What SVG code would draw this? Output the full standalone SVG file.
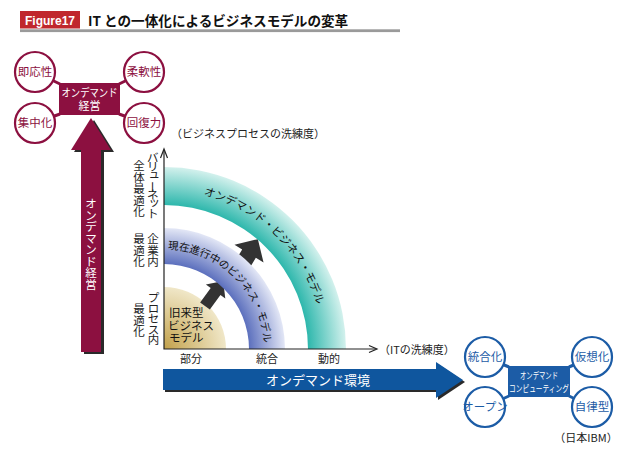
<svg xmlns="http://www.w3.org/2000/svg" width="630" height="455" viewBox="0 0 630 455">
<style>
text{font-family:"Noto Sans CJK JP","Liberation Sans",sans-serif;}
.mcirc{fill:#fff;stroke:#8c1040;stroke-width:2.2;}
.bcirc{fill:#fff;stroke:#1c5ca6;stroke-width:2.2;}
.mtxt{fill:#8c1040;font-size:11.5px;text-anchor:middle;}
.btxt{fill:#1c5ca6;font-size:11.5px;text-anchor:middle;}
.mline{stroke:#8c1040;stroke-width:3;}
.bline{stroke:#1c5ca6;stroke-width:3;}
.wt{fill:#fff;text-anchor:middle;}
.ax{fill:none;stroke:#222;stroke-width:1.2;}
.lbl{fill:#222;font-size:11px;}
.vt{fill:#222;font-size:11.5px;}
.darr{fill:#333;}
</style>
<defs>
<radialGradient id="gGold" gradientUnits="userSpaceOnUse" cx="164" cy="349" r="62">
<stop offset="0" stop-color="#c2a14a"/><stop offset="1" stop-color="#f0e7c8"/>
</radialGradient>
<radialGradient id="gBlue" gradientUnits="userSpaceOnUse" cx="164" cy="349" r="121">
<stop offset="0.70" stop-color="#5b6fbd"/><stop offset="1" stop-color="#e3e7f6"/>
</radialGradient>
<radialGradient id="gTeal" gradientUnits="userSpaceOnUse" cx="164" cy="349" r="182">
<stop offset="0.79" stop-color="#2db7ac"/><stop offset="1" stop-color="#d3f1ed"/>
</radialGradient>
<path id="pTeal" d="M164 190 A159 159 0 0 1 323 349"/>
<path id="pBlue" d="M164 249 A100 100 0 0 1 264 349"/>
</defs>

<g id="title">
<rect x="20" y="11" width="60" height="17.5" fill="#c0272d"/>
<text x="50" y="24.5" fill="#fff" font-weight="bold" font-size="12" text-anchor="middle" style="font-family:'Liberation Sans',sans-serif">Figure17</text>
<rect x="20" y="29.3" width="380" height="2.8" fill="#9a9a9a"/>
<text x="88" y="26" fill="#111" font-size="13.6" font-weight="bold">IT との一体化によるビジネスモデルの変革</text>
</g>

<g id="connectors">
<line class="mline" x1="35" y1="72" x2="60" y2="84"/>
<line class="mline" x1="144" y1="72" x2="119" y2="84"/>
<line class="mline" x1="35" y1="123" x2="60" y2="114"/>
<line class="mline" x1="144" y1="123" x2="119" y2="114"/>
<line class="bline" x1="485" y1="357" x2="509" y2="367"/>
<line class="bline" x1="592" y1="357" x2="569" y2="367"/>
<line class="bline" x1="485" y1="407" x2="509" y2="396"/>
<line class="bline" x1="592" y1="407" x2="569" y2="396"/>
</g>

<g id="node-ondemand-keiei">
<rect x="59" y="83" width="61" height="32" fill="#8c1040"/>
<text class="wt" x="89.5" y="97" font-size="11" textLength="56" lengthAdjust="spacingAndGlyphs">オンデマンド</text>
<text class="wt" x="89.5" y="110" font-size="11">経営</text>
</g>
<g id="node-sokuousei"><circle class="mcirc" cx="35" cy="72" r="20"/><text class="mtxt" x="35" y="76">即応性</text></g>
<g id="node-juunansei"><circle class="mcirc" cx="144" cy="72" r="20"/><text class="mtxt" x="144" y="76">柔軟性</text></g>
<g id="node-shuuchuuka"><circle class="mcirc" cx="35" cy="123" r="20"/><text class="mtxt" x="35" y="127">集中化</text></g>
<g id="node-kaifukuryoku"><circle class="mcirc" cx="144" cy="123" r="20"/><text class="mtxt" x="144" y="127">回復力</text></g>

<g id="arrow-keiei">
<polygon points="94,120 114,152 104,152 104,354 84,354 84,152 74,152" fill="#2a2a2a"/>
<polygon points="91,118 111,150 101,150 101,352 81,352 81,150 71,150" fill="#8c1040"/>
<text fill="#fff" font-size="11.5" x="85.25 85.25 85.25 85.25 85.25 85.25 85.25 85.25" y="208.1 219.6 231.1 242.6 254.1 265.6 277.1 288.6">オンデマンド経営</text>
</g>

<g id="chart">
<path d="M164 349 L164 287 A62 62 0 0 1 226 349 Z" fill="url(#gGold)"/>
<g id="arrow-small"><polygon class="darr" transform="translate(205,306) rotate(-54)" points="0,-6 18,-6 18,-12 31,0 18,12 18,6 0,6"/></g>
<g id="arrow-big"><polygon class="darr" transform="translate(236,275) rotate(-58.6)" points="0,-8 25,-8 25,-17 42,0 25,17 25,8 0,8"/></g>
<path d="M164 228 A121 121 0 0 1 285 349 L249 349 A85 85 0 0 0 164 264 Z" fill="url(#gBlue)"/>
<path d="M164 167 A182 182 0 0 1 346 349 L308 349 A144 144 0 0 0 164 205 Z" fill="url(#gTeal)"/>
<text font-size="11" fill="#111"><textPath href="#pTeal" startOffset="49%" text-anchor="middle">オンデマンド・ビジネス・モデル</textPath></text>
<text font-size="10.5" fill="#111"><textPath href="#pBlue" startOffset="49.4%" text-anchor="middle">現在進行中のビジネス・モデル</textPath></text>
<text font-size="11.5" fill="#111"><tspan x="169" y="317">旧来型</tspan><tspan x="168" y="330">ビジネス</tspan><tspan x="169" y="342">モデル</tspan></text>
<polyline class="ax" points="164,150 164,349 376,349"/>
<polyline class="ax" points="160.5,158 164,149 167.5,158"/>
<polyline class="ax" points="369,345.5 377,349 369,352.5"/>
<text class="lbl" x="171" y="138" font-size="10.8">（ビジネスプロセスの洗練度）</text>
<text class="lbl" x="379" y="354" font-size="10.8">（ITの洗練度）</text>
<text class="lbl" x="191" y="363" text-anchor="middle" font-size="11.5">部分</text>
<text class="lbl" x="267" y="363" text-anchor="middle" font-size="11.5">統合</text>
<text class="lbl" x="329" y="363" text-anchor="middle" font-size="11.5">動的</text>
<text class="vt" font-size="10" x="147 147 148.5 148 147 148.5 147" y="161.8 171.1 178.4 180.9 199 206.3 217.6" rotate="0 0 0 90 0 0 0">バリューネット</text>
<text class="vt" x="133.25 133.25 133.25 133.25 133.25" y="170.1 181.6 193.1 204.6 216.1">全体最適化</text>
<text class="vt" x="147.25 147.25 147.25" y="243.1 254.6 266.1">企業内</text>
<text class="vt" x="133.25 133.25 133.25" y="243.1 254.6 266.1">最適化</text>
<text class="vt" font-size="10.5" x="147.75 147.75 147.75 147.75 147.75" y="302.2 312.7 323.2 333.7 344.2">プロセス内</text>
<text class="vt" x="133.25 133.25 133.25" y="313.1 324.6 336.1">最適化</text>
</g>

<g id="arrow-kankyou">
<polygon points="165,371 438,371 438,364 465,382 438,400 438,392 165,392" fill="#2a2a2a"/>
<polygon points="163,369 436,369 436,362 463,380 436,398 436,390 163,390" fill="#0f569e"/>
<text class="wt" x="318" y="385" font-size="13">オンデマンド環境</text>
</g>

<g id="node-ondemand-computing">
<rect x="508" y="366" width="62" height="31" fill="#1c5ca6"/>
<text class="wt" x="539" y="379" font-size="9" textLength="38" lengthAdjust="spacingAndGlyphs">オンデマンド</text>
<text class="wt" x="539" y="392" font-size="9" textLength="60" lengthAdjust="spacingAndGlyphs">コンピューティング</text>
</g>
<g id="node-tougouka"><circle class="bcirc" cx="485" cy="357" r="20"/><text class="btxt" x="485" y="361">統合化</text></g>
<g id="node-kasouka"><circle class="bcirc" cx="592" cy="357" r="20"/><text class="btxt" x="592" y="361">仮想化</text></g>
<g id="node-open"><circle class="bcirc" cx="485" cy="407" r="20"/><text class="btxt" x="485" y="411" font-size="10.5">オープン</text></g>
<g id="node-jiritsugata"><circle class="bcirc" cx="592" cy="407" r="20"/><text class="btxt" x="592" y="411">自律型</text></g>
<text x="586" y="442" font-size="11" fill="#222" text-anchor="middle">（日本IBM）</text>
</svg>
